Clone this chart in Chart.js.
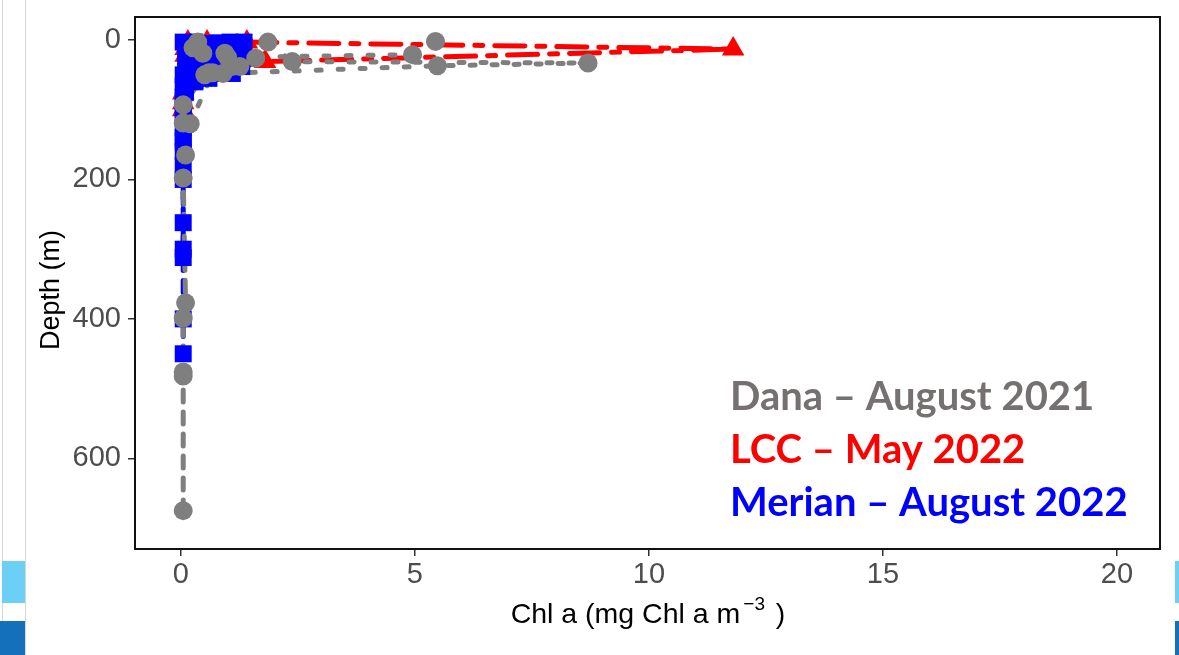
<!DOCTYPE html>
<html>
<head>
<meta charset="utf-8">
<title>Chl a depth profiles</title>
<script src="https://cdn.jsdelivr.net/npm/chart.js@4.4.1/dist/chart.umd.min.js"></script>
<style>
  html, body { margin: 0; padding: 0; background: #fff; }
  #wrap { position: relative; width: 1179px; height: 655px; overflow: hidden; }
  #profileChart { position: absolute; left: 0; top: 0; }
  .strip { position: absolute; }
</style>
</head>
<body>
<div id="wrap">
  <canvas id="profileChart" width="1179" height="655"></canvas>
  <!-- slide edges around the figure -->
  <div class="strip" style="left:2px;top:0;width:1px;height:655px;background:#d6d6d6"></div>
  <div class="strip" style="left:25px;top:0;width:1px;height:655px;background:#d6d6d6"></div>
  <div class="strip" style="left:2px;top:561px;width:23px;height:42px;background:#6bcff6"></div>
  <div class="strip" style="left:0;top:621px;width:25px;height:34px;background:#1470bb"></div>
  <div class="strip" style="left:1175px;top:561px;width:4px;height:42px;background:#6bcff6"></div>
  <div class="strip" style="left:1175px;top:621px;width:4px;height:34px;background:#1470bb"></div>
</div>
<script>
// Chl a (mg Chl a m-3) against depth (m), one array per station: [chl, depth]
const danaSt1 = [[0.36, 3], [0.47, 19], [1.1, 38], [0.51, 50], [0.05, 93], [0.05, 119], [0.1, 165], [0.05, 198], [0.1, 377], [0.05, 399], [0.05, 476], [0.05, 482], [0.05, 675]];
const danaSt2 = [[5.44, 2], [4.95, 21], [1.0, 25], [0.68, 47], [0.2, 120]];
const danaSt3 = [[1.86, 3], [2.38, 31], [8.7, 33], [5.48, 37], [0.9, 48]];
const danaSt4 = [[0.26, 11], [0.94, 19], [1.6, 26], [1.26, 38], [0.6, 47]];

const lccSt1 = [[1.41, 3], [11.8, 13], [1.8, 31], [0.1, 62], [0.05, 90], [0.05, 100]];
const lccSt2 = [[0.15, 3], [0.1, 12], [0.1, 22], [0.15, 45], [0.05, 76]];
const lccSt3 = [[0.56, 3], [0.4, 14], [0.3, 28]];

const merianSt1 = [[0.05, 3], [0.1, 12], [0.2, 22], [0.1, 32], [0.05, 50], [0.05, 66], [0.05, 82], [0.05, 100], [0.05, 145], [0.05, 200], [0.05, 262], [0.05, 300], [0.05, 400], [0.05, 450]];
const merianSt2 = [[1.35, 3], [1.3, 12], [1.2, 22], [1.0, 32], [0.6, 45], [0.1, 65], [0.05, 110], [0.05, 160], [0.05, 180], [0.05, 312]];
const merianSt3 = [[0.8, 4], [0.9, 14], [1.35, 26], [1.3, 38], [1.1, 48], [0.3, 58], [0.05, 125], [0.05, 140]];
const merianSt4 = [[0.5, 5], [0.6, 16], [0.4, 35], [0.8, 48], [0.3, 60]];
const merianSt5 = [[0.3, 3], [0.35, 12], [0.7, 24], [1.0, 40], [0.6, 55], [0.1, 75]];
const merianSt6 = [[1.05, 3], [1.1, 10], [0.5, 28], [0.2, 40], [0.1, 55], [0.05, 88]];

const cruiseLabels = ['Dana – August 2021', 'LCC – May 2022', 'Merian – August 2022'];
const xTicks = [0, 5, 10, 15, 20];
const yTicks = [0, 200, 400, 600];

const GRAY = '#7f7f7f', RED = '#ff0000', BLUE = '#0000ff';
const cruiseColors = ['#767171', RED, BLUE];

const toXY = st => st.map(([x, y]) => ({ x, y }));

function lineSet(st, color, dash, order) {
  return {
    data: toXY(st), showLine: true, borderColor: color, borderWidth: 5,
    borderDash: dash, borderCapStyle: 'round', pointRadius: 0, order
  };
}
function pointSet(st, color, style, radius, order) {
  return {
    data: toXY(st), showLine: false, pointStyle: style, pointRadius: radius,
    pointBackgroundColor: color, pointBorderColor: color, pointBorderWidth: 0, order
  };
}

const danaAll = [danaSt1, danaSt2, danaSt3, danaSt4];
const lccAll = [lccSt1, lccSt2, lccSt3];
const merianAll = [merianSt1, merianSt2, merianSt3, merianSt4, merianSt5, merianSt6];

// points sit above every line; gray on top, then blue, then red
const datasets = [
  ...danaAll.map(s => pointSet(s, GRAY, 'circle', 9.5, 1)),
  ...merianAll.map(s => pointSet(s, BLUE, 'rect', 12, 2)),
  ...lccAll.map(s => pointSet(s, RED, 'triangle', 13, 3)),
  lineSet(danaSt1, GRAY, [12, 10], 4),
  ...[danaSt2, danaSt3, danaSt4].map(s => lineSet(s, GRAY, [5, 17], 4)),
  ...lccAll.map(s => lineSet(s, RED, [30, 12, 8, 12], 5)),
  ...merianAll.map(s => lineSet(s, BLUE, [12, 10], 6))
];

// box around the panel, axis titles and the cruise key
const panelDecor = {
  id: 'panelDecor',
  afterDraw(chart) {
    const { ctx, chartArea: a } = chart;
    ctx.save();
    ctx.strokeStyle = '#111';
    ctx.lineWidth = 2;
    ctx.strokeRect(a.left, a.top, a.right - a.left, a.bottom - a.top);

    // y title
    ctx.fillStyle = '#000';
    ctx.font = '27px "Liberation Sans"';
    ctx.textAlign = 'center';
    ctx.textBaseline = 'alphabetic';
    ctx.save();
    ctx.translate(59, 290);
    ctx.rotate(-Math.PI / 2);
    ctx.fillText('Depth (m)', 0, 0);
    ctx.restore();

    // x title with superscript
    const base = 'Chl a (mg Chl a m', sup = '−3', tail = ' )';
    ctx.font = '28.5px "Liberation Sans"';
    const w1 = ctx.measureText(base).width;
    const w3 = ctx.measureText(tail).width;
    ctx.font = '19px "Liberation Sans"';
    const w2 = ctx.measureText(sup).width;
    let x = 648 - (w1 + w2 + w3 + 6) / 2;
    const yb = 623;
    ctx.textAlign = 'left';
    ctx.font = '28.5px "Liberation Sans"';
    ctx.fillText(base, x, yb);
    x += w1 + 3;
    ctx.font = '19px "Liberation Sans"';
    ctx.fillText(sup, x, yb - 13);
    x += w2 + 3;
    ctx.font = '28.5px "Liberation Sans"';
    ctx.fillText(tail, x, yb);

    // cruise key
    ctx.font = 'bold 40px Lato';
    cruiseLabels.forEach((t, i) => {
      ctx.fillStyle = cruiseColors[i];
      ctx.fillText(t, 730, 410 + i * 53);
    });
    ctx.restore();
  }
};

const tickFont = { family: 'Liberation Sans', size: 29 };

new Chart(document.getElementById('profileChart'), {
  type: 'scatter',
  data: { datasets },
  options: {
    responsive: false,
    animation: false,
    devicePixelRatio: 1,
    layout: { padding: { top: 17, right: 19, left: 0, bottom: 0 } },
    plugins: { legend: { display: false }, tooltip: { enabled: false } },
    scales: {
      x: {
        type: 'linear', min: -0.98, max: 20.92,
        afterBuildTicks: s => { s.ticks = xTicks.map(v => ({ value: v })); },
        afterFit: s => { s.height = 106; s.paddingLeft = 0; s.paddingRight = 0; },
        grid: { drawOnChartArea: false, drawTicks: true, tickLength: 7, color: '#333', lineWidth: 1.5 },
        border: { display: false },
        ticks: { font: tickFont, color: '#4d4d4d', padding: 2, maxRotation: 0 }
      },
      y: {
        type: 'linear', reverse: true, min: -33, max: 730,
        afterBuildTicks: s => { s.ticks = yTicks.map(v => ({ value: v })); },
        afterFit: s => { s.width = 135; s.paddingTop = 0; s.paddingBottom = 0; },
        grid: { drawOnChartArea: false, drawTicks: true, tickLength: 7, color: '#333', lineWidth: 1.5 },
        border: { display: false },
        ticks: { font: tickFont, color: '#4d4d4d', padding: 7 }
      }
    }
  },
  plugins: [panelDecor]
});
</script>
</body>
</html>
